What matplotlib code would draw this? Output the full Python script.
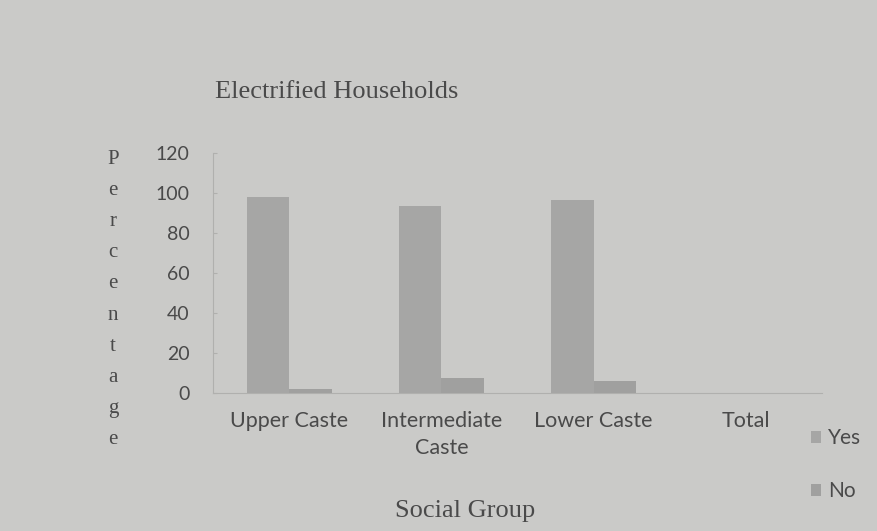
import matplotlib.pyplot as plt
import numpy as np

# values (percent of households)
groups = ["Upper Caste", "Intermediate\nCaste", "Lower Caste", "Total"]
yes_pct = [98, 93.5, 96.5, 0]
no_pct = [2, 7.5, 6, 0]
y_ticks = [0, 20, 40, 60, 80, 100, 120]

BG = "#cacac8"
BAR_YES = "#a6a6a5"
BAR_NO = "#a0a09f"
TEXT = "#4a4a4a"
AXIS = "#b0b0ae"

fig = plt.figure(figsize=(8.77, 5.31), dpi=100, facecolor=BG)
ax = fig.add_axes([0.243, 0.260, 0.694, 0.452])
ax.set_facecolor(BG)

x = np.arange(len(groups))
w = 0.28
ax.bar(x - w / 2, yes_pct, w, color=BAR_YES, label="Yes")
ax.bar(x + w / 2, no_pct, w, color=BAR_NO, label="No")

ax.set_xlim(-0.5, len(groups) - 0.5)
ax.set_ylim(0, 120)
ax.set_yticks(y_ticks)
ax.set_xticks(x)
ax.set_xticklabels(groups, family="Lato", fontsize=15.5, color=TEXT,
                   linespacing=1.45)
ax.set_yticklabels([str(v) for v in y_ticks], family="Lato", fontsize=14,
                   color=TEXT)
ax.tick_params(axis="y", length=3, direction="in", color=AXIS, pad=17)
ax.tick_params(axis="x", length=0, pad=13)

for s in ["top", "right"]:
    ax.spines[s].set_visible(False)
ax.spines["left"].set_color(AXIS)
ax.spines["bottom"].set_color(AXIS)

# stacked vertical axis title, one letter per line
fig.text(0.129, 0.718, "\n".join("Percentage"), family="Liberation Serif",
         fontsize=15, color=TEXT, ha="center", va="top", linespacing=1.87)

fig.text(0.245, 0.826, "Electrified Households", family="Liberation Serif",
         fontsize=19, color=TEXT, ha="left", va="center")
fig.text(0.530, 0.038, "Social Group", family="Liberation Serif",
         fontsize=19, color=TEXT, ha="center", va="center")

leg = fig.legend(loc="center left", bbox_to_anchor=(0.903, 0.125),
                 frameon=False, prop={"family": "Lato", "size": 15},
                 labelspacing=1.6, handlelength=0.5, handleheight=0.5,
                 handletextpad=0.35)
for t in leg.get_texts():
    t.set_color(TEXT)

fig.savefig("out.png", dpi=100, facecolor=BG)
